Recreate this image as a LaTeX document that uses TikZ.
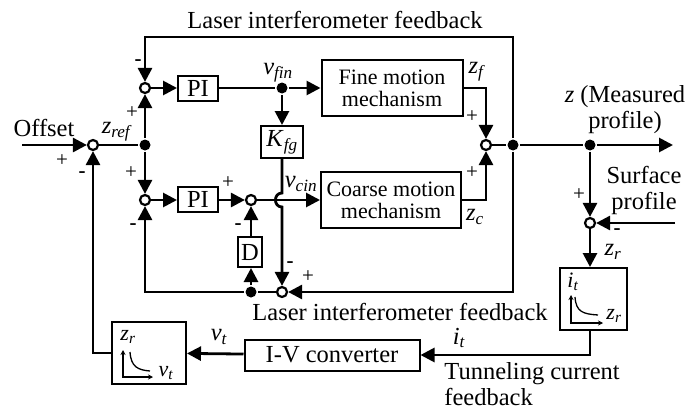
\documentclass[tikz,border=0pt]{standalone}
\usepackage{fontspec}
\setmainfont{Liberation Serif}
\usetikzlibrary{arrows.meta,positioning}
\newcommand{\vsub}[2]{\textit{#1}\textsubscript{\textit{#2}}}
\newcommand{\bigtxt}{\fontsize{24.5}{26}\selectfont}
\newcommand{\boxtxt}{\fontsize{22}{22}\selectfont}
\newcommand{\sgntxt}{\fontsize{21}{21}\selectfont}
\tikzset{
  blk/.style={draw, line width=2pt, fill=white, inner sep=0pt, font=\bigtxt},
  sumj/.style={circle, draw, line width=2.2pt, fill=white, minimum size=10pt, inner sep=0pt},
  dotj/.style={circle, fill, minimum size=11pt, inner sep=0pt},
  arr/.style={-{Triangle[length=14pt,width=14pt]}},
  lbl/.style={font=\bigtxt, inner sep=0pt},
  sgn/.style={font=\sgntxt, inner sep=0pt},
  axes/.style={line width=1.3pt, {Stealth[length=5pt,width=5pt]}-{Stealth[length=5pt,width=5pt]}},
}
\begin{document}
\begin{tikzpicture}[x=1pt, y=-1pt, line width=2.8pt]
        \useasboundingbox (0,0) rectangle (695,412);

            \node[sumj] (s0) at (93,145) {};
            \node[dotj] (d1) at (145,145) {};
            \node[sumj] (s1) at (145,88) {};
            \node[sumj] (s2) at (145,200) {};
            \node[blk, minimum width=40pt, minimum height=25pt] (pi1) at (198,88) {PI};
            \node[blk, minimum width=40pt, minimum height=25pt] (pi2) at (198,199) {PI};
            \node[dotj] (d2) at (282,88) {};
            \node[blk, minimum width=42pt, minimum height=32pt] (kfg) at (282,142) {\vsub{K}{fg}};
            \node[sumj] (s3) at (251,200) {};
            \node[blk, minimum width=24pt, minimum height=30pt] (dd) at (250,252) {D};
            \node[dotj] (d3) at (251,292) {};
            \node[sumj] (s4) at (282,292) {};
            \node[blk, font=\boxtxt, align=center, minimum width=141pt, minimum height=56pt] (fine) at (392,88) {Fine motion\\mechanism};
            \node[blk, font=\boxtxt, align=center, minimum width=140pt, minimum height=56pt] (coarse) at (391,200) {Coarse motion\\mechanism};
            \node[sumj] (s5) at (486,145) {};
            \node[dotj] (d4) at (513,145) {};
            \node[dotj] (d5) at (590,145) {};
            \node[sumj] (s6) at (590,223) {};
            \node[blk, minimum width=67pt, minimum height=62pt] (itbox) at (593,299) {};
            \node[blk, minimum width=175pt, minimum height=31pt] (iv) at (332,355) {I-V converter};
            \node[blk, minimum width=74pt, minimum height=62pt] (zrbox) at (149,353) {};
            \coordinate (off) at (22,145);
            \coordinate (tr) at (513,37);
            \coordinate (zout) at (673,145);
            \coordinate (surf) at (675,223);

            \draw[arr] (off) -- (s0);
            \draw (s0) -- (d1);
            \draw[arr] (d1) -- (s1);
            \draw[arr] (d1) -- (s2);
            \draw[arr] (s1) -- (pi1);
            \draw (pi1) -- (d2);
            \draw[arr] (d2) -- (fine);
            \draw[arr] (d2) -- (kfg);
            \draw[arr] (s2) -- (s2 -| pi2.west);
            \draw[arr] (pi2.east |- s3) -- (s3);
            \draw[arr] (s3) -- (coarse);
            \draw[arr] (dd.north -| s3) -- (s3);
            \draw[arr] (d3) -- (d3 |- dd.south);
            \draw[arr] (kfg) -- (282,193) to[out=180, in=180, looseness=1.6] (282,207) -- (s4);
            \draw[arr] (s4) -- (d3) -| (s2);
            \draw[arr] (d4) |- (s4);
            \draw[arr] (d4) -- (tr) -| (s1);
            \draw[arr] (fine) -| (s5);
            \draw[arr] (coarse) -| (s5);
            \draw (s5) -- (d4) -- (d5);
            \draw[arr] (d5) -- (zout);
            \draw[arr] (d5) -- (s6);
            \draw[arr] (surf) -- (s6);
            \draw[arr] (s6) -- (s6 |- itbox.north);
            \draw[arr] (itbox.south -| s6) |- (iv);
            \draw[arr] (iv) -- (zrbox);
            \draw[arr] (zrbox) -| (s0);

            \draw[axes] (571,295) |- (603,323);
            \draw[line width=1.3pt] (575,297) .. controls (576,312) and (583,314) .. (598,315);
            \node[lbl, font=\boxtxt] (itlbl) at (573,282) {\vsub{i}{t}};
            \node[lbl, font=\boxtxt] (zrlbl) at (614,316) {\vsub{z}{r}};
            \draw[axes] (123,350) |- (153,377);
            \draw[line width=1.3pt] (130,352) .. controls (131,367) and (138,370) .. (150,371);
            \node[lbl, font=\boxtxt] (zrlbl2) at (128,337) {\vsub{z}{r}};
            \node[lbl, font=\boxtxt] (vtlbl2) at (166,373) {\vsub{v}{t}};

            \node[lbl] (toplbl) at (335,20) {Laser interferometer feedback};
            \node[lbl] (botlbl) at (400,312) {Laser interferometer feedback};
            \node[lbl] (offlbl) at (44,128) {Offset};
            \node[lbl] (zref) at (117,132) {\vsub{z}{ref}};
            \node[lbl] (vfin) at (278,73) {\vsub{v}{fin}};
            \node[lbl] (vcin) at (301,184) {\vsub{v}{cin}};
            \node[lbl] (zf) at (477,72) {\vsub{z}{f}};
            \node[lbl] (zc) at (475,217) {\vsub{z}{c}};
            \node[lbl, align=center] (meas) at (625,110) {\textit{z} (Measured\\profile)};
            \node[lbl, align=center] (surflbl) at (644,190) {Surface\\profile};
            \node[lbl] (zr) at (613,252) {\vsub{z}{r}};
            \node[lbl] (it) at (459,338) {\vsub{i}{t}};
            \node[lbl] (vt) at (219,337) {\vsub{v}{t}};
            \node[lbl, align=left, anchor=north west] (tunn) at (443,361) {Tunneling current\\feedback};

            \node[sgn] at (62,161) {+};
            \node[sgn] at (82,175) {\textbf{-}};
            \node[sgn] at (138,63) {\textbf{-}};
            \node[sgn] at (132,113) {+};
            \node[sgn] at (131,173) {+};
            \node[sgn] at (133,227) {\textbf{-}};
            \node[sgn] at (228,183) {+};
            \node[sgn] at (238,227) {\textbf{-}};
            \node[sgn] at (290,265) {\textbf{-}};
            \node[sgn] at (308,277) {+};
            \node[sgn] at (472,117) {+};
            \node[sgn] at (472,173) {+};
            \node[sgn] at (579,195) {+};
            \node[sgn] at (617,232) {\textbf{-}};

\end{tikzpicture}
\end{document}
